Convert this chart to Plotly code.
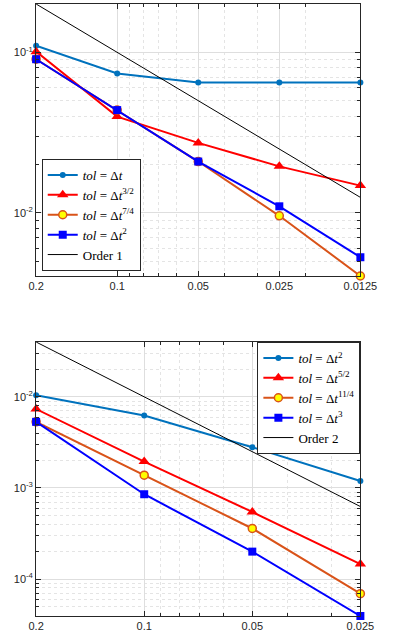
import numpy as np
import plotly.graph_objects as go

# ---- data: top panel ----
dt_top = [0.2, 0.1, 0.05, 0.025, 0.0125]
err_tol1 = [0.110, 0.0739, 0.065, 0.065, 0.0648]
err_tol32 = [0.101, 0.0398, 0.0273, 0.0195, 0.0148]
err_tol74 = [0.0906, 0.0437, 0.0209, 0.0096, 0.00405]
err_tol2 = [0.0906, 0.0437, 0.0209, 0.0110, 0.0053]
order1 = [d for d in dt_top]

# ---- data: bottom panel ----
dt_bot = [0.2, 0.1, 0.05, 0.025]
err_b_tol2 = [0.0104, 0.00625, 0.0028, 0.00119]
err_b_tol52 = [0.00735, 0.00195, 0.000545, 0.000146]
err_b_tol114 = [0.00532, 0.00138, 0.000359, 0.000069]
err_b_tol3 = [0.00532, 0.000853, 0.000200, 0.0000393]
order2 = [d**2 for d in dt_bot]

xt_top = ["0.2", "0.1", "0.05", "0.025", "0.0125"]
xt_bot = ["0.2", "0.1", "0.05", "0.025"]

W, H = 398, 637
BLUE1 = "#0072BD"
RED = "#FF0000"
ORANGE = "#D95319"
BLUE = "#0000FF"
AX = "#262626"

fig = go.Figure()

def add(x, y, name, color, symbol, size, xa, ya, legend, fill=None, lw=2, mode="lines+markers"):
    marker = dict(symbol=symbol, size=size, color=fill if fill else color,
                  line=dict(color=color, width=1.5 if fill else 0))
    fig.add_trace(go.Scatter(x=x, y=y, name=name, mode=mode, xaxis=xa, yaxis=ya,
                             line=dict(color=color, width=lw), marker=marker,
                             legend=legend, cliponaxis=False))

ser = "Liberation Serif"
add(dt_top, err_tol1, "<i>tol</i> = Δ<i>t</i>", BLUE1, "circle", 6, "x", "y", "legend")
add(dt_top, err_tol32, "<i>tol</i> = Δ<i>t</i><sup>3/2</sup>", RED, "triangle-up", 10, "x", "y", "legend")
add(dt_top, err_tol74, "<i>tol</i> = Δ<i>t</i><sup>7/4</sup>", ORANGE, "circle", 8, "x", "y", "legend", fill="#FFFF00")
add(dt_top, err_tol2, "<i>tol</i> = Δ<i>t</i><sup>2</sup>", BLUE, "square", 8, "x", "y", "legend")
fig.add_trace(go.Scatter(x=dt_top, y=order1, name="Order 1", mode="lines", xaxis="x", yaxis="y",
                         line=dict(color="black", width=1), legend="legend"))

add(dt_bot, err_b_tol2, "<i>tol</i> = Δ<i>t</i><sup>2</sup>", BLUE1, "circle", 6, "x2", "y2", "legend2")
add(dt_bot, err_b_tol52, "<i>tol</i> = Δ<i>t</i><sup>5/2</sup>", RED, "triangle-up", 10, "x2", "y2", "legend2")
add(dt_bot, err_b_tol114, "<i>tol</i> = Δ<i>t</i><sup>11/4</sup>", ORANGE, "circle", 8, "x2", "y2", "legend2", fill="#FFFF00")
add(dt_bot, err_b_tol3, "<i>tol</i> = Δ<i>t</i><sup>3</sup>", BLUE, "square", 8, "x2", "y2", "legend2")
fig.add_trace(go.Scatter(x=dt_bot, y=order2, name="Order 2", mode="lines", xaxis="x2", yaxis="y2",
                         line=dict(color="black", width=1), legend="legend2"))

def minors(lo, hi):
    vals = []
    for e in range(-6, 2):
        for m in range(2, 10):
            v = m * 10.0**e
            if lo * 0.999 <= v <= hi * 1.001:
                vals.append(v)
    return vals

def xaxis(dom, tv, tt, anchor):
    lo, hi = min(tv), max(tv)
    return dict(type="log", domain=dom, anchor=anchor,
                range=[np.log10(hi), np.log10(lo)], autorange=False,
                tickmode="array", tickvals=tv, ticktext=tt,
                ticks="inside", ticklen=5, tickcolor=AX, mirror="allticks",
                showline=True, linecolor=AX, linewidth=1,
                showgrid=True, gridcolor="#dedede", gridwidth=1,
                tickfont=dict(family="Liberation Sans", size=11, color=AX),
                zeroline=False,
                minor=dict(tickmode="array", tickvals=minors(lo, hi), ticks="inside",
                           ticklen=3, tickcolor=AX, showgrid=True,
                           gridcolor="#e4e4e4", griddash="dot", gridwidth=1))

def yaxis(dom, lo, hi, majors, anchor):
    return dict(type="log", domain=dom, anchor=anchor,
                range=[np.log10(lo), np.log10(hi)], autorange=False,
                tickmode="array", tickvals=majors,
                ticktext=["10<sup>%d</sup>" % int(round(np.log10(m))) for m in majors],
                ticks="inside", ticklen=5, tickcolor=AX, mirror="allticks",
                showline=True, linecolor=AX, linewidth=1,
                showgrid=True, gridcolor="#dedede", gridwidth=1,
                tickfont=dict(family="Liberation Sans", size=11, color=AX),
                zeroline=False,
                minor=dict(tickmode="array", tickvals=minors(lo, hi), ticks="inside",
                           ticklen=3, tickcolor=AX, showgrid=True,
                           gridcolor="#e4e4e4", griddash="dot", gridwidth=1))

xd = [30 / W, 376 / W]
fig.update_layout(
    width=W, height=H, margin=dict(l=0, r=0, t=0, b=0),
    paper_bgcolor="white", plot_bgcolor="white",
    xaxis=xaxis(xd, dt_top, xt_top, "y"),
    yaxis=yaxis([1 - 276 / H, 1 - 4 / H], min(err_tol74), 0.2, [0.1, 0.01], "x"),
    xaxis2=xaxis(xd, dt_bot, xt_bot, "y2"),
    yaxis2=yaxis([1 - 616 / H, 1 - 342 / H], min(err_b_tol3), 0.04, [0.01, 0.001, 0.0001], "x2"),
    legend=dict(x=36 / W, y=1 - 159 / H, xanchor="left", yanchor="top",
                bgcolor="white", bordercolor=AX, borderwidth=1,
                font=dict(family=ser, size=13, color="black"), tracegroupgap=0,
                itemwidth=30),
    legend2=dict(x=376 / W, y=1 - 342 / H, xanchor="right", yanchor="top",
                 bgcolor="white", bordercolor=AX, borderwidth=1,
                 font=dict(family=ser, size=13, color="black"), tracegroupgap=0,
                 itemwidth=30),
)

fig.write_html("out.html")
